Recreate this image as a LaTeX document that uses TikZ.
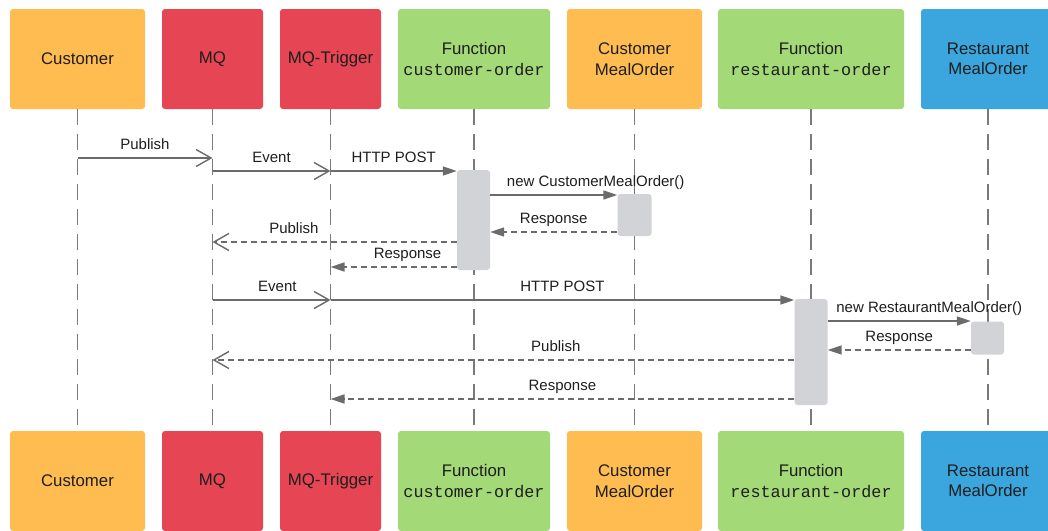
\documentclass[tikz,border=0pt]{standalone}
\usepackage{fontspec}
\setmainfont{Liberation Sans}
\setmonofont{Liberation Mono}
\usetikzlibrary{arrows.meta}
\definecolor{corange}{HTML}{FFBC50}
\definecolor{cred}{HTML}{E64553}
\definecolor{cgreen}{HTML}{A3D977}
\definecolor{cblue}{HTML}{3AA6DD}
\definecolor{cline}{HTML}{6B6B6B}
\definecolor{clife}{HTML}{7A7A7A}
\definecolor{cact}{HTML}{D2D3D6}
\definecolor{ctext}{HTML}{1E1E1E}
\tikzset{
  actor/.style={rounded corners=3pt, minimum height=100pt, inner sep=0pt, align=center,
    text=ctext, font=\fontsize{16.8}{20.5}\selectfont},
  life/.style={draw=clife, line width=1.6pt, dash pattern=on 16pt off 9pt},
  act/.style={fill=cact, rounded corners=3pt, inner sep=0pt, draw=none},
  msg/.style={draw=cline, line width=1.6pt},
  ret/.style={draw=cline, line width=1.6pt, dash pattern=on 6pt off 4pt},
  openhd/.style={-{Straight Barb[length=15pt,width=17pt,line width=1.4pt]}},
  fillhd/.style={-{Triangle[length=14pt,width=9pt]}},
  lbl/.style={text=ctext, font=\fontsize{15}{18}\selectfont, inner sep=0pt,
    anchor=base, yshift=8.5pt},
}
\begin{document}
\begin{tikzpicture}[x=1pt,y=-1pt]
\useasboundingbox (0,0) rectangle (1048,530);
% top headers
\node[actor, fill=corange, minimum width=135pt] (cust) at (77.5,59) {Customer};
\node[actor, fill=cred, minimum width=101pt] (mq) at (212.5,59) {MQ};
\node[actor, fill=cred, minimum width=101pt] (mqt) at (330.5,59) {MQ-Trigger};
\node[actor, fill=cgreen, minimum width=152pt] (fco) at (474,59) {Function\\\texttt{customer-order}};
\node[actor, fill=corange, minimum width=135pt] (cmo) at (634.5,59) {Customer\\MealOrder};
\node[actor, fill=cgreen, minimum width=186pt] (fro) at (811,59) {Function\\\texttt{restaurant-order}};
\node[actor, fill=cblue, minimum width=134pt] (rmo) at (988,59) {Restaurant\\MealOrder};
% bottom headers
\node[actor, fill=corange, minimum width=135pt] (cust2) at (77.5,481) {Customer};
\node[actor, fill=cred, minimum width=101pt] (mq2) at (212.5,481) {MQ};
\node[actor, fill=cred, minimum width=101pt] (mqt2) at (330.5,481) {MQ-Trigger};
\node[actor, fill=cgreen, minimum width=152pt] (fco2) at (474,481) {Function\\\texttt{customer-order}};
\node[actor, fill=corange, minimum width=135pt] (cmo2) at (634.5,481) {Customer\\MealOrder};
\node[actor, fill=cgreen, minimum width=186pt] (fro2) at (811,481) {Function\\\texttt{restaurant-order}};
\node[actor, fill=cblue, minimum width=134pt] (rmo2) at (988,481) {Restaurant\\MealOrder};
% lifelines
\draw[life] (cust.south) -- (cust2.north);
\draw[life] (mq.south) -- (mq2.north);
\draw[life] (mqt.south) -- (mqt2.north);
\draw[life] (fco.south) -- (fco2.north);
\draw[life] (cmo.south) -- (cmo2.north);
\draw[life] (fro.south) -- (fro2.north);
\draw[life] (rmo.south) -- (rmo2.north);
% activation boxes
\node[act, minimum width=33pt, minimum height=100pt] (act1) at (473.5,220) {};
\node[act, minimum width=34pt, minimum height=42pt] (act2) at (634.5,215) {};
\node[act, minimum width=33pt, minimum height=106pt] (act3) at (811,352) {};
\node[act, minimum width=33pt, minimum height=33pt] (act4) at (987.5,338) {};
% messages
\draw[msg, openhd] (cust |- 0,158) -- node[lbl] {Publish} (mq |- 0,158);
\draw[msg, openhd] (mq |- 0,171) -- node[lbl] {Event} (mqt |- 0,171);
\draw[msg, fillhd] (mqt |- 0,171) -- node[lbl] {HTTP POST} (act1.west |- 0,171);
\draw[msg, fillhd] (act1.east |- 0,195) -- (act2.west |- 0,195)
  node[lbl, pos=0.83] {new CustomerMealOrder()};
\draw[ret, fillhd] (act2.west |- 0,232) -- node[lbl] {Response} (act1.east |- 0,232);
\draw[ret, openhd] (act1.west |- 0,242) -- (mq |- 0,242)
  node[lbl, pos=0.667] {Publish};
\draw[ret, fillhd] (act1.west |- 0,267) -- (mqt |- 0,267)
  node[lbl, pos=0.39] {Response};
\draw[msg, openhd] (mq |- 0,300) -- (mqt |- 0,300)
  node[lbl, pos=0.55] {Event};
\draw[msg, fillhd] (mqt |- 0,300) -- node[lbl] {HTTP POST} (act3.west |- 0,300);
\draw[msg, fillhd] (act3.east |- 0,321) -- (act4.west |- 0,321)
  node[lbl, pos=0.71] {new RestaurantMealOrder()};
\draw[ret, fillhd] (act4.west |- 0,350) -- node[lbl] {Response} (act3.east |- 0,350);
\draw[ret, openhd] (act3.west |- 0,360) -- (mq |- 0,360)
  node[lbl, pos=0.41] {Publish};
\draw[ret, fillhd] (act3.west |- 0,399) -- (mqt |- 0,399)
  node[lbl, pos=0.5] {Response};
\end{tikzpicture}
\end{document}
